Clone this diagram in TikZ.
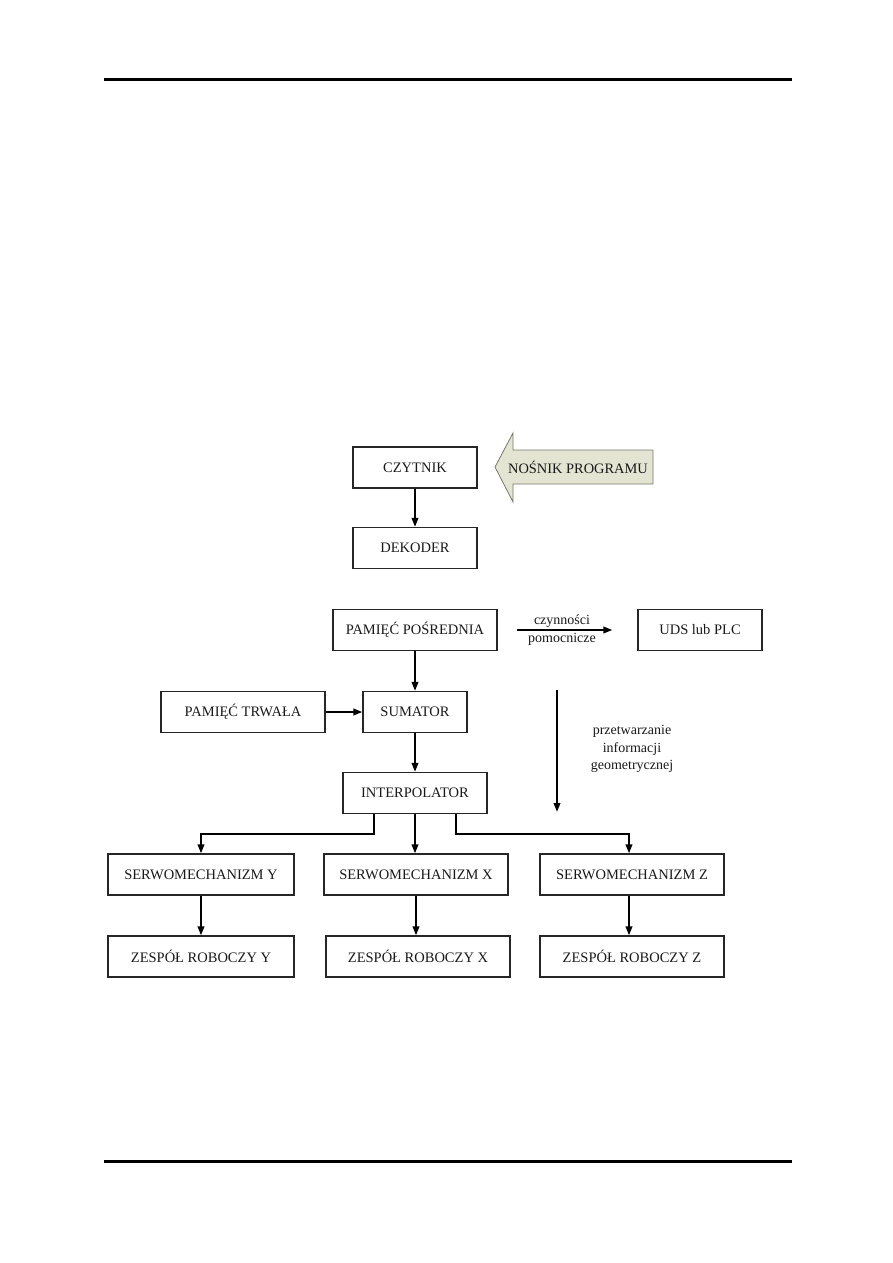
\documentclass[tikz,border=0pt]{standalone}
\usepackage{fontspec}
\setmainfont{Liberation Serif}
\usetikzlibrary{arrows.meta,positioning}

\definecolor{nosnikfill}{RGB}{227,229,210}
\definecolor{nosnikline}{RGB}{118,120,108}

\tikzset{
  blok/.style={draw=black!85, line width=1.2pt, minimum height=41pt, inner sep=0pt,
    font=\fontsize{14.5}{17}\selectfont, text=black!90},
  strz/.style={line width=2pt, -{Triangle[length=9pt,width=6.5pt]}},
  opis/.style={font=\fontsize{14}{17.5}\selectfont, align=center, inner sep=0pt, text=black!90},
}

\begin{document}
\begin{tikzpicture}[x=1pt,y=-1pt]
\useasboundingbox (0,0) rectangle (893,1263);
% linie strony
\draw[line width=3pt] (104,79) -- (792,79);
\draw[line width=3pt] (104,1161) -- (792,1161);

% wczytywanie programu
\node[blok, minimum width=124pt] (czytnik) at (415,467.5) {CZYTNIK};
\node[blok, minimum width=124pt] (dekoder) at (415,548) {DEKODER};
\draw[nosnikline, fill=nosnikfill, line width=0.8pt] (495,467) -- (513,433) -- (513,450)
  -- (653,450) -- (653,484) -- (513,484) -- (513,502) -- cycle;
\node[opis, font=\fontsize{14.4}{17}\selectfont] (nosnik) at (578,467) {NOŚNIK PROGRAMU};
\draw[strz] (czytnik.south) -- (dekoder.north);

% pamiec i sumator
\node[blok, minimum width=164pt] (pamposr) at (415,630) {PAMIĘĆ POŚREDNIA};
\node[blok, minimum width=124pt] (uds) at (700,630) {UDS lub PLC};
\node[opis] (czyn) at (562,621) {czynności};
\node[opis] (pomoc) at (562,639) {pomocnicze};
\draw[strz, shorten <=19pt, shorten >=25pt] (pamposr.east) -- (uds.west);
\node[blok, minimum width=164pt] (trwala) at (243,712) {PAMIĘĆ TRWAŁA};
\node[blok, minimum width=104pt] (sumator) at (415,712) {SUMATOR};
\draw[strz] (pamposr.south) -- (sumator.north);
\draw[strz] (trwala.east) -- (sumator.west);

% przetwarzanie geometrii
\coordinate (geoA) at (557,690);
\coordinate (geoB) at (557,812);
\draw[strz] (geoA) -- (geoB);
\node[opis] (geo) at (632,749) {przetwarzanie\\informacji\\geometrycznej};

\node[blok, minimum width=144pt] (interp) at (415,793) {INTERPOLATOR};
\draw[strz] (sumator.south) -- (interp.north);

% osie
\node[blok, minimum width=186pt] (serwoY) at (201,874.5) {SERWOMECHANIZM Y};
\node[blok, minimum width=184pt] (serwoX) at (416,874.5) {SERWOMECHANIZM X};
\node[blok, minimum width=184pt] (serwoZ) at (632,874.5) {SERWOMECHANIZM Z};
\node[blok, minimum width=186pt] (zespY) at (201,956.5) {ZESPÓŁ ROBOCZY Y};
\node[blok, minimum width=184pt] (zespX) at (418,956.5) {ZESPÓŁ ROBOCZY X};
\node[blok, minimum width=184pt] (zespZ) at (632,956.5) {ZESPÓŁ ROBOCZY Z};

\draw[strz] ([xshift=-41pt]interp.south) -- ++(0,20) -| (serwoY.north);
\draw[strz] (interp.south) -- (interp.south |- serwoX.north);
\draw[strz] ([xshift=41pt]interp.south) -- ++(0,20) -| ([xshift=-3pt]serwoZ.north);
\draw[strz] (serwoY.south) -- (zespY.north);
\draw[strz] (serwoX.south) -- (serwoX.south |- zespX.north);
\draw[strz] ([xshift=-3pt]serwoZ.south) -- ([xshift=-3pt]zespZ.north);
\end{tikzpicture}
\end{document}
